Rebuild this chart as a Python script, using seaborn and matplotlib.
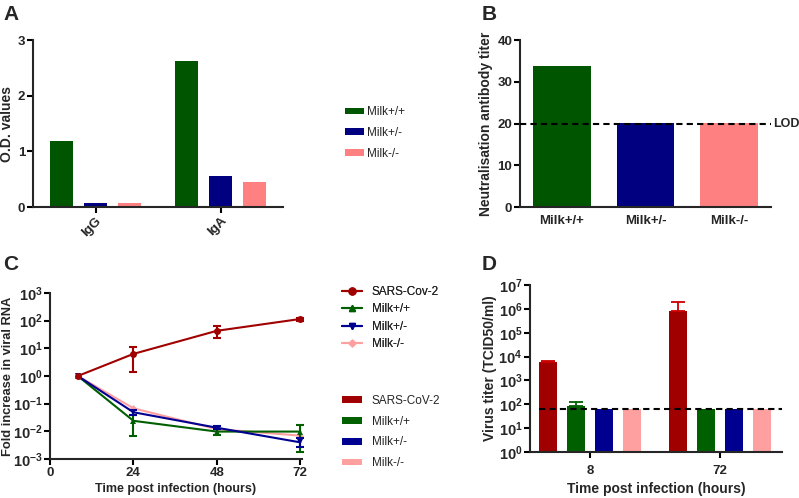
import matplotlib
matplotlib.use("Agg")
import matplotlib.pyplot as plt
import matplotlib.transforms as mtransforms
from matplotlib.lines import Line2D
from matplotlib.ticker import FuncFormatter, LogLocator, NullLocator
import numpy as np
import pandas as pd
import seaborn as sns

# ---- data -------------------------------------------------------------
# A: ELISA O.D. values
antibody = ["IgG", "IgA"]
od_milk_pp = [1.18, 2.62]
od_milk_pm = [0.08, 0.55]
od_milk_mm = [0.07, 0.45]

# B: neutralisation titer
milk_groups = ["Milk+/+", "Milk+/-", "Milk-/-"]
neut_titer = [33.7, 20.2, 20.2]
neut_lod = 20

# C: fold increase in viral RNA
hours = [8, 24, 48, 72]
rna_sars = [1.0, 6.3, 43, 115]
rna_sars_lo = [1.0, 1.4, 23, 100]
rna_sars_hi = [1.0, 11, 66, 130]
rna_pp = [1.0, 0.024, 0.0098, 0.0098]
rna_pp_lo = [1.0, 0.0069, 0.0075, 0.0018]
rna_pp_hi = [1.0, 0.039, 0.012, 0.017]
rna_pm = [1.0, 0.049, 0.0135, 0.0040]
rna_pm_lo = [1.0, 0.040, 0.012, 0.0028]
rna_pm_hi = [1.0, 0.060, 0.016, 0.0056]
rna_mm = [1.0, 0.068, 0.012, 0.0070]

# D: virus titer
time_pts = ["8", "72"]
titer_groups = ["SARS-CoV-2", "Milk+/+", "Milk+/-", "Milk-/-"]
titer_sars = [6000, 8.5e5]
titer_sars_hi = [6700, 1.9e6]
titer_pp = [85, 62]
titer_pp_hi = [120, 62]
titer_pm = [62, 62]
titer_mm = [62, 62]
titer_lod = 62

# ---- style ------------------------------------------------------------
sns.set_style("ticks")
plt.rcParams["font.family"] = ["Liberation Sans", "DejaVu Sans"]
plt.rcParams["mathtext.fontset"] = "custom"
plt.rcParams["mathtext.rm"] = "Liberation Sans"
plt.rcParams["mathtext.bf"] = "Liberation Sans:bold"
plt.rcParams["axes.linewidth"] = 1.5

green = "#005500"
navy = "#000080"
pink = "#ff8080"
red = "#a00000"
green2 = "#006000"
navy2 = "#000090"
pink2 = "#ffa0a0"

W, H = 799, 498
fig = plt.figure(figsize=(W / 100, H / 100), dpi=100)


def axes_px(left, top, right, bottom):
    return fig.add_axes([left / W, 1 - bottom / H, (right - left) / W, (bottom - top) / H])


def style_ax(ax, fs=9.5):
    sns.despine(ax=ax)
    ax.tick_params(width=1.5, length=4, labelsize=fs, color="black", pad=1.5)
    for lab in ax.get_xticklabels() + ax.get_yticklabels():
        lab.set_fontweight("bold")


def pow10(v, pos):
    return r"$\mathbf{10^{%d}}$" % int(round(np.log10(v)))


# ---- A ----------------------------------------------------------------
ax_a = axes_px(33, 40, 283, 207)
df_a = pd.DataFrame({
    "antibody": antibody * 3,
    "group": [g for g in milk_groups for _ in antibody],
    "od": od_milk_pp + od_milk_pm + od_milk_mm,
})
sns.barplot(data=df_a, x="antibody", y="od", hue="group", ax=ax_a,
            palette=[green, navy, pink], width=0.81, gap=0.33, saturation=1,
            linewidth=0, errorbar=None)
ax_a.set_xlim(-0.5, 1.5)
ax_a.set_ylim(0, 3)
ax_a.set_yticks([0, 1, 2, 3])
ax_a.set_xlabel("")
ax_a.set_ylabel("O.D. values", fontsize=10, fontweight="bold", labelpad=3)
style_ax(ax_a)
for lab in ax_a.get_xticklabels():
    lab.set_rotation(45)
    lab.set_ha("right")
    lab.set_rotation_mode("anchor")
h, l = ax_a.get_legend_handles_labels()
ax_a.legend(h, l, loc="center left", bbox_to_anchor=(345 / W, 1 - 133 / H),
            bbox_transform=fig.transFigure, frameon=False, fontsize=8.5,
            handlelength=1.6, handleheight=0.5, labelspacing=0.75,
            borderpad=0, borderaxespad=0, handletextpad=0.3)

# ---- B ----------------------------------------------------------------
ax_b = axes_px(520, 40, 771, 207)
df_b = pd.DataFrame({"group": milk_groups, "titer": neut_titer})
sns.barplot(data=df_b, x="group", y="titer", hue="group", ax=ax_b,
            palette=[green, navy, pink], width=0.69, linewidth=0, saturation=1,
            errorbar=None, legend=False)
ax_b.axhline(neut_lod, color="black", lw=1.5, ls=(0, (3, 2)), zorder=5)
trans = mtransforms.blended_transform_factory(ax_b.transAxes, ax_b.transData)
ax_b.text(1.01, neut_lod, "LOD", transform=trans, va="center", ha="left",
          fontsize=9, fontweight="bold")
ax_b.set_xlim(-0.5, 2.5)
ax_b.set_ylim(0, 40)
ax_b.set_yticks([0, 10, 20, 30, 40])
ax_b.set_xlabel("")
ax_b.set_ylabel("Neutralisation antibody titer", fontsize=10, fontweight="bold", labelpad=3)
style_ax(ax_b)
ax_b.tick_params(axis="x", length=0, pad=6)

# ---- C ----------------------------------------------------------------
ax_c = axes_px(50, 293, 302, 459)
series_c = [
    ("SARS-Cov-2", rna_sars, rna_sars_lo, rna_sars_hi, red, "o", 5),
    ("Milk+/+", rna_pp, rna_pp_lo, rna_pp_hi, green2, "^", 5),
    ("Milk+/-", rna_pm, rna_pm_lo, rna_pm_hi, navy2, "v", 5),
    ("Milk-/-", rna_mm, rna_mm, rna_mm, pink2, "D", 3.5),
]
df_c = pd.DataFrame({
    "hours": hours * 4,
    "rna": rna_sars + rna_pp + rna_pm + rna_mm,
    "group": [s[0] for s in series_c for _ in hours],
})
draw_order = ["Milk-/-", "Milk+/+", "Milk+/-", "SARS-Cov-2"]
line_handles = []
for name, mean, lo, hi, col, mk, ms in series_c:
    line_handles.append(Line2D([], [], color=col, marker=mk, markersize=ms, lw=1.5, label=name))
for name in draw_order:
    s = [x for x in series_c if x[0] == name][0]
    _, mean, lo, hi, col, mk, ms = s
    sub = df_c[df_c["group"] == name]
    sns.lineplot(data=sub, x="hours", y="rna", ax=ax_c, color=col, marker=mk,
                 markersize=ms, markeredgewidth=0, lw=1.5, legend=False)
    mean = np.array(mean)
    lo = np.array(lo)
    hi = np.array(hi)
    keep = hi > lo
    if keep.any():
        x_e = np.array(hours)[keep]
        yerr = [(mean - lo)[keep], (hi - mean)[keep]]
        ax_c.errorbar(x_e, mean[keep], yerr=yerr, fmt="none", ecolor=col,
                      elinewidth=1.5, capsize=3, capthick=1.5, clip_on=False)
ax_c.set_yscale("log")
ax_c.set_ylim(1e-3, 1e3)
ax_c.set_xlim(0, 72.5)
ax_c.set_xticks([0, 24, 48, 72])
ax_c.yaxis.set_major_locator(LogLocator(base=10, numticks=10))
ax_c.yaxis.set_minor_locator(NullLocator())
ax_c.yaxis.set_major_formatter(FuncFormatter(pow10))
ax_c.set_xlabel("Time post infection (hours)", fontsize=9, fontweight="bold", labelpad=3)
ax_c.set_ylabel("Fold increase in viral RNA", fontsize=9.3, fontweight="bold")
ax_c.yaxis.set_label_coords(-0.143, 0.5)
style_ax(ax_c)
ax_c.tick_params(axis="y", labelsize=10.5)
for ln in ax_c.lines:
    ln.set_clip_on(False)
leg_c = ax_c.legend(handles=line_handles, loc="center left",
                    bbox_to_anchor=(342 / W, 1 - 318 / H), bbox_transform=fig.transFigure,
                    frameon=False, fontsize=8.5, handlelength=1.7, labelspacing=0.45,
                    borderpad=0, borderaxespad=0, handletextpad=0.8)
ax_c.add_artist(leg_c)

# ---- D ----------------------------------------------------------------
ax_d = axes_px(530, 285, 782, 452)
df_d = pd.DataFrame({
    "time": time_pts * 4,
    "group": [g for g in titer_groups for _ in time_pts],
    "titer": titer_sars + titer_pp + titer_pm + titer_mm,
})
sns.barplot(data=df_d, x="time", y="titer", hue="group", ax=ax_d,
            palette=[red, green2, navy2, pink2], width=0.86, gap=0.35,
            saturation=1, linewidth=0, errorbar=None)
ax_d.set_yscale("log")
ax_d.set_ylim(1, 1e7)
ax_d.set_xlim(-0.4615, 1.477)
# upward error bars from bar centres
bars = ax_d.patches[:8]
hi_vals = titer_sars_hi + titer_pp_hi + [np.nan] * 4
err_cols = ["#cc0000", "#cc0000", green2, green2, navy2, navy2, pink2, pink2]
for b, top, col in zip(bars, hi_vals, err_cols):
    hgt = b.get_height()
    if np.isnan(top) or top <= hgt:
        continue
    xc = b.get_x() + b.get_width() / 2
    ax_d.errorbar([xc], [hgt], yerr=[[0], [top - hgt]], fmt="none", ecolor=col,
                  elinewidth=1.3, capsize=5, capthick=1.3)
x0 = min(b.get_x() for b in bars)
ax_d.hlines(titer_lod, x0, ax_d.get_xlim()[1], color="black", lw=1.5,
            ls=(0, (3, 2)), zorder=5)
ax_d.yaxis.set_major_locator(LogLocator(base=10, numticks=10))
ax_d.yaxis.set_minor_locator(NullLocator())
ax_d.yaxis.set_major_formatter(FuncFormatter(pow10))
ax_d.set_xlabel("Time post infection (hours)", fontsize=10, fontweight="bold", labelpad=4)
ax_d.set_ylabel("Virus titer (TCID50/ml)", fontsize=10, fontweight="bold")
ax_d.yaxis.set_label_coords(-0.13, 0.5)
style_ax(ax_d)
ax_d.tick_params(axis="y", labelsize=10.5)
ax_d.tick_params(axis="x", pad=5)
h, l = ax_d.get_legend_handles_labels()
ax_d.get_legend().remove()
fig.legend(h, l, loc="center left", bbox_to_anchor=(342 / W, 1 - 432 / H),
           frameon=False, fontsize=8.5, handlelength=1.7, handleheight=0.5,
           labelspacing=0.75, borderpad=0, borderaxespad=0, handletextpad=0.8)

# ---- panel letters ----------------------------------------------------
for letter, xp, yp in [("A", 3, 5), ("B", 482, 5), ("C", 3, 255), ("D", 482, 255)]:
    fig.text(xp / W, 1 - yp / H, letter, fontsize=15, fontweight="bold", va="top", ha="left")

fig.savefig("out.png", dpi=100)
